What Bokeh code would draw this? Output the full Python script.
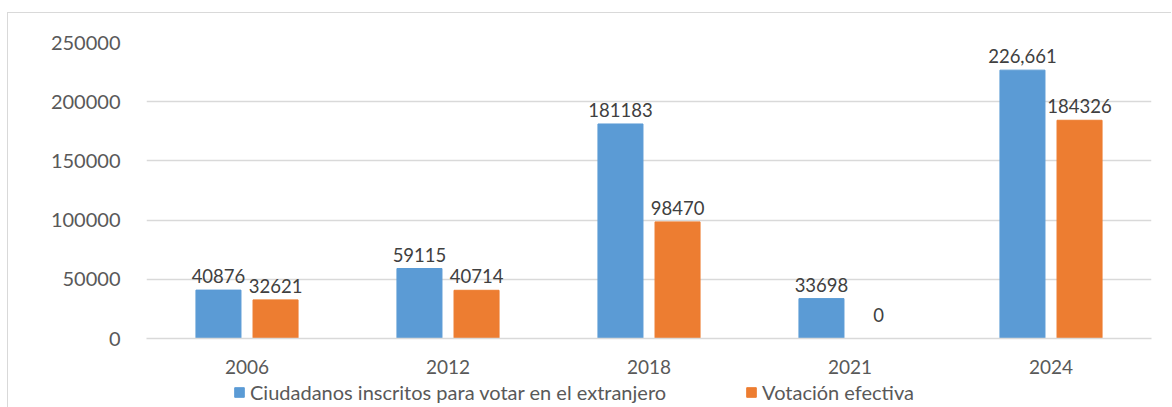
from bokeh.plotting import figure
from bokeh.layouts import column
from bokeh.models import (ColumnDataSource, FactorRange, Range1d, Legend, LegendItem,
                          BasicTickFormatter, FixedTicker)
from bokeh.transform import dodge
from bokeh.embed import file_html
from bokeh.resources import INLINE
from bokeh.core.properties import value

years = ["2006", "2012", "2018", "2021", "2024"]
inscritos = [40876, 59115, 181183, 33698, 226661]
votacion = [32621, 40714, 98470, 0, 184326]
inscritos_labels = ["40876", "59115", "181183", "33698", "226,661"]
votacion_labels = ["32621", "40714", "98470", "0", "184326"]
y_ticks = [0, 50000, 100000, 150000, 200000, 250000]
series_names = ["Ciudadanos inscritos para votar en el extranjero", "Votación efectiva"]

BLUE = "#5B9BD5"
ORANGE = "#ED7D31"
FONT = "Lato"
W = 1163

src = ColumnDataSource(dict(
    year=years, ins=inscritos, vot=votacion,
    ins_lbl=inscritos_labels, vot_lbl=votacion_labels,
    ins_off=[-14 if v else -24 for v in inscritos],
    vot_off=[-14 if v else -24 for v in votacion],
))

p = figure(width=W, height=364, x_range=FactorRange(*years),
           y_range=Range1d(0, 250000), output_backend="svg", toolbar_location=None,
           min_border_left=138, min_border_right=20, min_border_top=29,
           min_border_bottom=39)
p.outline_line_color = None

off = 0.142
w = 0.224
r1 = p.vbar(x=dodge("year", -off, range=p.x_range), top="ins", width=w, source=src,
            fill_color=BLUE, line_color=BLUE)
r2 = p.vbar(x=dodge("year", off, range=p.x_range), top="vot", width=w, source=src,
            fill_color=ORANGE, line_color=ORANGE)

p.text(x=dodge("year", -off, range=p.x_range), y="ins", text="ins_lbl", source=src,
       text_align="center", text_baseline="alphabetic", y_offset="ins_off",
       text_font=value(FONT), text_font_size="18.5px", text_color="#404040")
p.text(x=dodge("year", off, range=p.x_range), y="vot", text="vot_lbl", source=src,
       text_align="center", text_baseline="alphabetic", y_offset="vot_off",
       text_font=value(FONT), text_font_size="18.5px", text_color="#404040")

p.xgrid.grid_line_color = None
p.ygrid.grid_line_color = "#D9D9D9"
p.ygrid.grid_line_width = 1.5
p.yaxis.ticker = FixedTicker(ticks=y_ticks)
p.yaxis.formatter = BasicTickFormatter(use_scientific=False)
p.yaxis.axis_line_color = None
p.yaxis.major_tick_line_color = None
p.yaxis.minor_tick_line_color = None
p.yaxis.major_label_standoff = 20
p.yaxis.major_label_text_font = FONT
p.yaxis.major_label_text_font_size = "20px"
p.yaxis.major_label_text_color = "#595959"

p.xaxis.axis_line_color = "#D9D9D9"
p.xaxis.axis_line_width = 1.5
p.xaxis.major_tick_line_color = None
p.xaxis.minor_tick_line_color = None
p.xaxis.major_label_standoff = 15
p.xaxis.major_label_text_font = FONT
p.xaxis.major_label_text_font_size = "19px"
p.xaxis.major_label_text_color = "#595959"

# legend strip below the chart (swatches come from hidden copies of the two series)
p2 = figure(width=W, height=30, x_range=Range1d(0, 1), y_range=Range1d(0, 1),
            output_backend="svg", toolbar_location=None, min_border=0)
p2.axis.visible = False
p2.grid.visible = False
p2.outline_line_color = None
l1 = p2.vbar(x="ins", top="ins", width=0.1, source=src, fill_color=BLUE, line_color=BLUE,
             visible=False)
l2 = p2.vbar(x="ins", top="vot", width=0.1, source=src, fill_color=ORANGE,
             line_color=ORANGE, visible=False)
legend = Legend(items=[LegendItem(label=series_names[0], renderers=[l1]),
                       LegendItem(label=series_names[1], renderers=[l2])],
                orientation="horizontal", location=(87, 3),
                glyph_width=12, glyph_height=12, label_standoff=5, spacing=79,
                padding=0, margin=0, border_line_color=None, background_fill_alpha=0,
                inactive_fill_alpha=0,
                label_text_font=FONT, label_text_font_size="20px",
                label_text_color="#595959")
p2.add_layout(legend)

layout = column(p, p2, spacing=0)
layout.styles = {"border-top": "1px solid #D9D9D9", "border-left": "1px solid #D9D9D9",
                 "margin-top": "12px", "margin-left": "7px"}

open("out.html", "w").write(file_html(layout, INLINE))
